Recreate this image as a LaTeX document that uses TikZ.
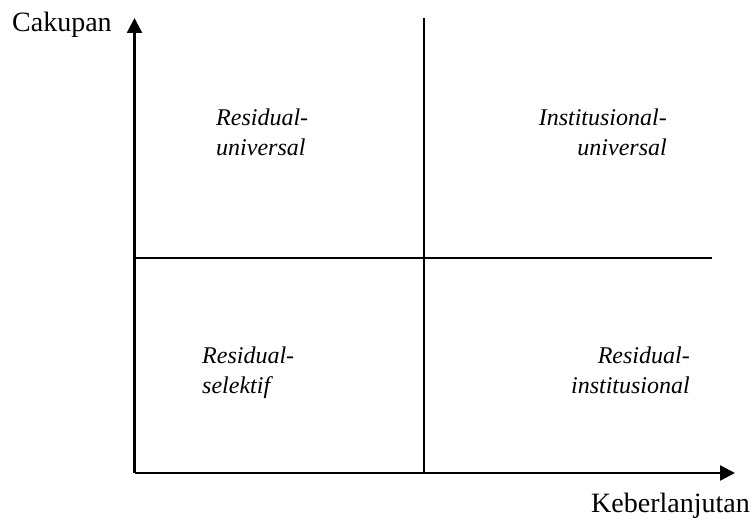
\documentclass[tikz,border=0pt]{standalone}
\usepackage{fontspec}
\setmainfont{Liberation Serif}
\usetikzlibrary{arrows.meta}
\tikzset{
  axis/.style={line width=2.4pt, -{Triangle[length=15pt,width=15pt]}},
  divider/.style={line width=2pt},
  quad/.style={inner sep=0pt, font=\fontsize{24pt}{30pt}\selectfont\itshape},
  axlabel/.style={inner sep=0pt, font=\fontsize{28pt}{32pt}\selectfont}
}
\begin{document}
\begin{tikzpicture}[x=1pt,y=-1pt]
\useasboundingbox (0,0) rectangle (754,519);
\coordinate (o) at (134.5,473);
\coordinate (ytip) at (134.5,18);
\coordinate (xtip) at (735,473);
\coordinate (vtop) at (423.5,18);
\coordinate (vbot) at (423.5,473);
\coordinate (hl) at (134.5,258);
\coordinate (hr) at (712,258);
\draw[axis] (o) -- (ytip);
\draw[axis] (o) -- (xtip);
\draw[divider] (vtop) -- (vbot);
\draw[divider] (hl) -- (hr);
\node[axlabel, anchor=base west] (cak) at (12,32) {Cakupan};
\node[axlabel, anchor=base east] (keb) at (750,512) {Keberlanjutan};
\node[quad, align=left, anchor=base west] (ru) at (216,155) {Residual-\\universal};
\node[quad, align=right, anchor=base east] (iu) at (667,155) {Institusional-\\universal};
\node[quad, align=left, anchor=base west] (rs) at (202,393) {Residual-\\selektif};
\node[quad, align=right, anchor=base east] (ri) at (690,393) {Residual-\\institusional};
\end{tikzpicture}
\end{document}
